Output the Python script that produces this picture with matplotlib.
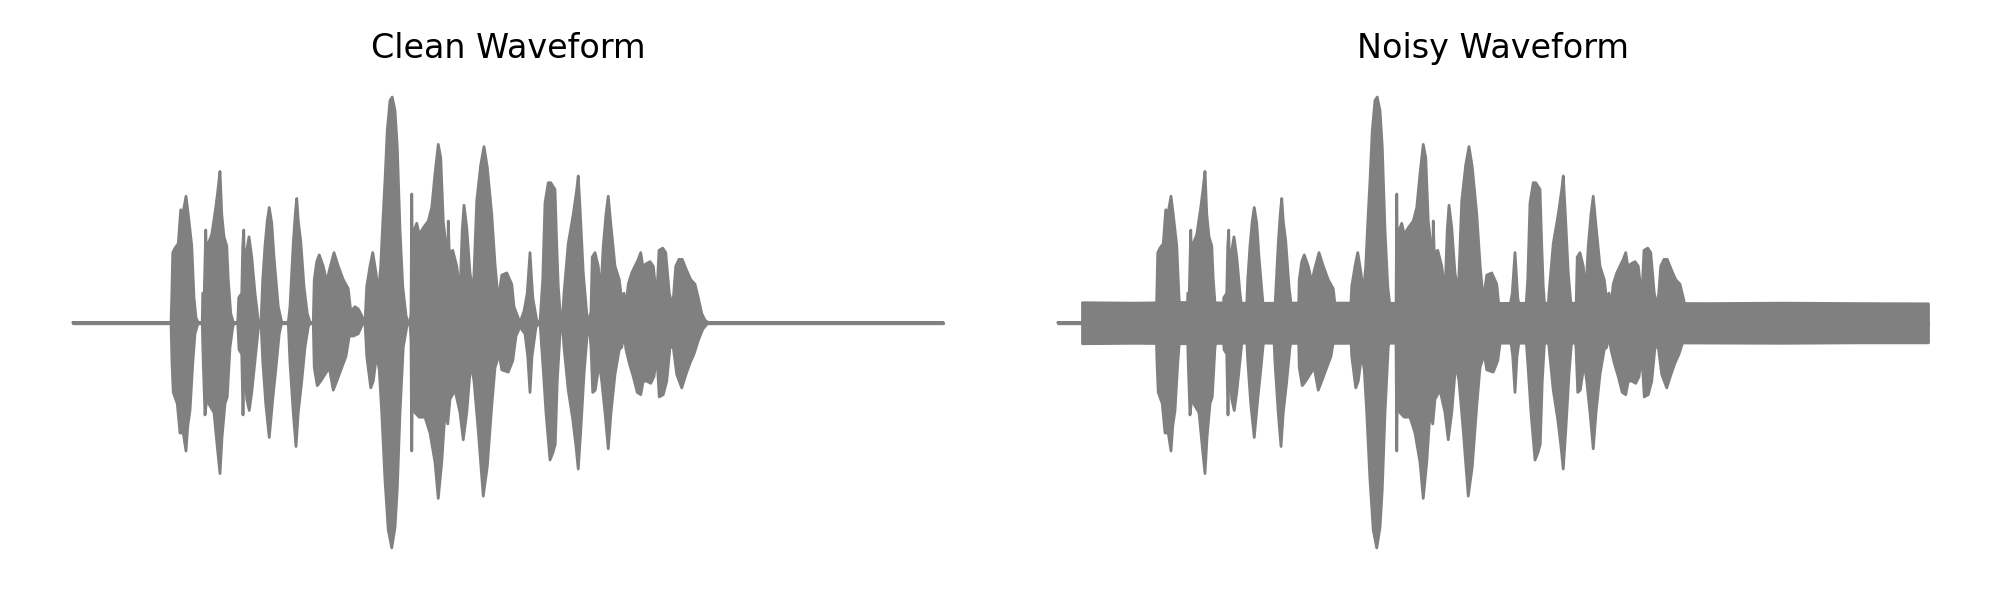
import numpy as np
import matplotlib
matplotlib.use("Agg")
import matplotlib.pyplot as plt

# ---------------- data (time in ms, normalised amplitude) ----------------
duration_ms = 3480

upper_t = [0, 392, 395, 399, 408, 421, 431, 441, 452, 461, 468, 475, 484, 492, 501,
           517, 519, 525, 531, 536, 541, 555, 571, 580, 588, 595, 604, 615, 621, 631, 641,
           659, 663, 675, 679, 683, 687, 695, 704, 715, 728, 741, 748,
           752, 759, 768, 777, 785, 795, 804, 821, 835,
           861, 868, 881, 889, 895, 901, 911, 924, 937, 948,
           961, 965, 975, 985, 1001, 1015, 1025, 1044, 1061, 1081, 1101, 1111, 1128, 1141, 1155, 1164,
           1168, 1175, 1188, 1199, 1212, 1221, 1231, 1239, 1248, 1257, 1268, 1277, 1288, 1297, 1308,
           1319, 1332, 1341,
           1348, 1352, 1355, 1359, 1365, 1375, 1385, 1401, 1421, 1435, 1448, 1461, 1471, 1481, 1492,
           1499, 1501, 1505, 1519, 1535, 1548, 1557, 1564, 1575, 1588, 1601, 1615, 1631, 1644, 1657,
           1675, 1688, 1701, 1715, 1735, 1755, 1764, 1788, 1804, 1817, 1828, 1839, 1855,
           1868, 1879, 1888, 1901, 1911, 1928, 1935, 1941, 1951, 1957,
           1964, 1981, 2001, 2015, 2021, 2028, 2041, 2055, 2064,
           2072, 2077, 2088, 2101, 2111, 2121, 2132, 2141, 2151, 2168, 2185, 2195, 2204, 2212,
           2221, 2235, 2248, 2261, 2271, 2279, 2292, 2308, 2321, 2335, 2344, 2359, 2371, 2385,
           2399, 2411, 2424, 2437, 2455, 2471, 2488, 2501, 2515, 2528, 2541, 3480]
upper_a = [0, 0, 0.11, 0.31, 0.33, 0.35, 0.50, 0.49, 0.56, 0.48, 0.41, 0.34, 0.11, 0.02, 0,
           0, 0.13, 0.13, 0.41, 0.19, 0.35, 0.39, 0.51, 0.59, 0.67, 0.48, 0.38, 0.34, 0.19, 0.04, 0,
           0, 0.11, 0.13, 0.34, 0.41, 0.13, 0.32, 0.38, 0.29, 0.13, 0.01, 0,
           0, 0.19, 0.34, 0.45, 0.51, 0.44, 0.29, 0.07, 0,
           0, 0.07, 0.35, 0.48, 0.55, 0.45, 0.36, 0.16, 0.04, 0,
           0, 0.19, 0.27, 0.30, 0.25, 0.18, 0.23, 0.31, 0.25, 0.19, 0.15, 0.05, 0.07, 0.06, 0.03, 0,
           0, 0.16, 0.25, 0.31, 0.22, 0.13, 0.25, 0.44, 0.63, 0.85, 0.985, 1.0, 0.94, 0.78, 0.41,
           0.16, 0.03, 0,
           0, 0.04, 0.57, 0.11, 0.41, 0.44, 0.39, 0.42, 0.45, 0.51, 0.66, 0.79, 0.73, 0.45, 0.34,
           0.19, 0.45, 0.31, 0.32, 0.25, 0.13, 0.41, 0.52, 0.42, 0.22, 0.13, 0.54, 0.70, 0.78, 0.69,
           0.48, 0.26, 0.10, 0.21, 0.22, 0.17, 0.07, 0.0, 0.05, 0.13, 0.31, 0.11, 0.01,
           0, 0.19, 0.53, 0.62, 0.62, 0.59, 0.34, 0.16, 0.01, 0,
           0.13, 0.35, 0.48, 0.59, 0.65, 0.51, 0.22, 0.04, 0,
           0.05, 0.29, 0.31, 0.25, 0.13, 0.34, 0.48, 0.56, 0.44, 0.25, 0.19, 0.10, 0.13, 0.07,
           0.17, 0.22, 0.25, 0.28, 0.31, 0.25, 0.26, 0.27, 0.25, 0.11, 0.32, 0.33, 0.31, 0.13,
           0.07, 0.25, 0.28, 0.28, 0.23, 0.19, 0.17, 0.11, 0.04, 0.01, 0, 0]

lower_t = [0, 392, 396, 401, 417, 428, 441, 452, 459, 468, 479, 488, 501,
           517, 521, 528, 535, 548, 564, 577, 588, 596, 608, 617, 628, 639, 644,
           659, 664, 675, 680, 685, 695, 705, 715, 728, 741, 748,
           752, 759, 771, 785, 799, 812, 825, 835,
           861, 868, 881, 892, 901, 915, 928, 941, 948,
           961, 965, 977, 991, 1008, 1025, 1041, 1055, 1075, 1092, 1105, 1121, 1141, 1161,
           1168, 1175, 1191, 1201, 1215, 1225, 1235, 1248, 1261, 1275, 1288, 1297, 1308, 1321, 1335, 1341,
           1348, 1352, 1355, 1359, 1368, 1385, 1408, 1428, 1448, 1461, 1475, 1488, 1499, 1508, 1528,
           1548, 1561, 1575, 1591, 1604, 1621, 1641, 1657, 1675, 1688, 1705, 1715, 1741, 1759, 1772,
           1788, 1808, 1819, 1828, 1836, 1852,
           1868, 1881, 1892, 1908, 1919, 1929, 1937, 1948, 1957,
           1964, 1981, 1999, 2012, 2021, 2031, 2044, 2057, 2064,
           2072, 2079, 2089, 2105, 2115, 2128, 2141, 2152, 2168, 2185, 2195, 2204, 2212,
           2225, 2241, 2257, 2271, 2281, 2295, 2311, 2324, 2335, 2345, 2361, 2375, 2388,
           2401, 2415, 2435, 2452, 2468, 2484, 2501, 2519, 2541, 3480]
lower_a = [0, 0, -0.18, -0.31, -0.36, -0.49, -0.49, -0.57, -0.46, -0.39, -0.18, -0.05, 0,
           0, -0.18, -0.41, -0.34, -0.37, -0.40, -0.55, -0.67, -0.51, -0.36, -0.33, -0.11, -0.02, 0,
           0, -0.12, -0.14, -0.41, -0.15, -0.34, -0.39, -0.31, -0.17, -0.03, 0,
           0, -0.17, -0.36, -0.51, -0.34, -0.20, -0.05, 0,
           0, -0.18, -0.40, -0.55, -0.40, -0.26, -0.11, -0.02, 0,
           0, -0.20, -0.28, -0.26, -0.23, -0.20, -0.30, -0.26, -0.20, -0.15, -0.06, -0.06, -0.05, 0,
           0, -0.15, -0.29, -0.26, -0.14, -0.21, -0.40, -0.70, -0.92, -1.0, -0.91, -0.74, -0.40, -0.11, -0.02, 0,
           0, -0.08, -0.57, -0.11, -0.40, -0.42, -0.42, -0.49, -0.62, -0.78, -0.62, -0.40, -0.45, -0.34, -0.30,
           -0.40, -0.52, -0.40, -0.18, -0.26, -0.48, -0.77, -0.64, -0.37, -0.20, -0.14, -0.21, -0.22, -0.17, -0.06,
           -0.02, -0.05, -0.15, -0.31, -0.15, -0.02,
           0, -0.21, -0.40, -0.61, -0.58, -0.54, -0.26, -0.05, 0,
           -0.11, -0.30, -0.43, -0.55, -0.65, -0.48, -0.23, -0.05, 0,
           -0.11, -0.31, -0.30, -0.18, -0.26, -0.40, -0.56, -0.40, -0.23, -0.12, -0.11, -0.05, -0.12,
           -0.18, -0.24, -0.31, -0.32, -0.26, -0.26, -0.27, -0.24, -0.14, -0.33, -0.32, -0.26, -0.11,
           -0.11, -0.23, -0.29, -0.23, -0.18, -0.14, -0.08, -0.03, 0, 0]

# background noise band of the noisy recording (starts a little after t=0)
noise_t = [96, 300, 500, 800, 1000, 1200, 1600, 2000, 2300, 2600, 2900, 3200, 3480]
noise_up = [0.090, 0.088, 0.091, 0.087, 0.089, 0.088, 0.086, 0.088, 0.087, 0.086, 0.088, 0.086, 0.085]
noise_lo = [-0.092, -0.090, -0.092, -0.089, -0.091, -0.090, -0.089, -0.090, -0.088, -0.089, -0.090, -0.088, -0.088]

titles = ["Clean Waveform", "Noisy Waveform"]

# ---------------- drawing ----------------
W, H = 2000, 600
fig = plt.figure(figsize=(10, 3), dpi=200)
color = "#808080"
ax_w, ax_h = 957, 496
lefts = [29.5, 1014.5]
bottom = H - 570.5

poly_t = np.concatenate([upper_t, lower_t[::-1]])
poly_a = np.concatenate([upper_a, lower_a[::-1]])

for i, x0 in enumerate(lefts):
    ax = fig.add_axes([x0 / W, bottom / H, ax_w / W, ax_h / H])
    ax.plot([0, duration_ms], [0, 0], color=color, lw=1.2, solid_capstyle="round")
    if i == 1:
        ax.fill_between(noise_t, noise_lo, noise_up, color=color, lw=1.0,
                        edgecolor=color, joinstyle="round")
    ax.fill(poly_t, poly_a, color=color, lw=1.0, edgecolor=color, joinstyle="round")
    ax.set_xlim(-0.05 * duration_ms, 1.05 * duration_ms)
    ax.set_ylim(-1.1, 1.1)
    ax.set_title(titles[i], fontsize=12)
    ax.axis("off")

fig.savefig("out.png", dpi=200)
